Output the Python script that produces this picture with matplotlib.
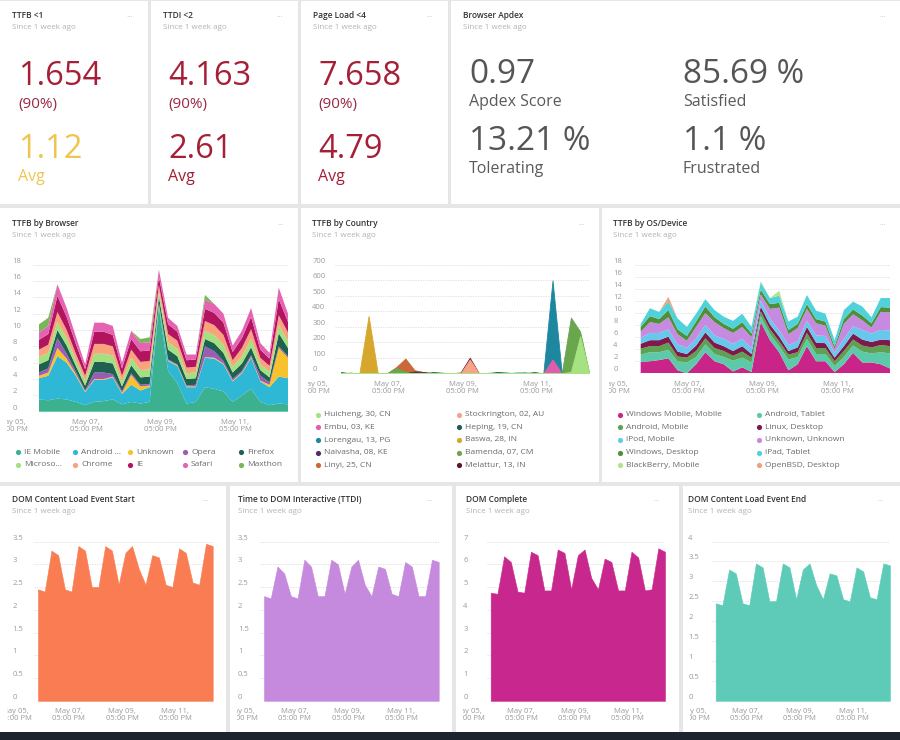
import numpy as np
import matplotlib
matplotlib.use("Agg")
import matplotlib.pyplot as plt
from matplotlib.patches import Rectangle
from matplotlib.transforms import blended_transform_factory, Bbox, TransformedBbox

plt.rcParams['font.family'] = ['Open Sans', 'DejaVu Sans']

W, H = 900, 740

# ---------------- data ----------------
kpi_titles = ["TTFB <1", "TTDI <2", "Page Load <4"]
kpi_p90 = ["1.654", "4.163", "7.658"]
kpi_avg = ["1.12", "2.61", "4.79"]
kpi_avg_colors = ["#efc552", "#a51f36", "#a51f36"]

apdex_values = ["0.97", "85.69 %", "13.21 %", "1.1 %"]
apdex_labels = ["Apdex Score", "Satisfied", "Tolerating", "Frustrated"]

# time axis: days since May 05, 05:00 PM (6-hourly samples)
tick_days = [0, 2, 4, 6]
tick_dates = ["May 05,", "May 07,", "May 09,", "May 11,"]
tick_time = "05:00 PM"
t_mid = np.linspace(0.73, 7.41, 28)
t_bot = np.linspace(0.85, 7.40, 27)

# TTFB by Browser (stacked)
browser_names = ["IE Mobile", "Android …", "Unknown", "Opera", "Firefox",
                 "Microso…", "Chrome", "IE", "Safari", "Maxthon"]
browser_colors = ["#3bb18f", "#2fb7d6", "#f8c22e", "#9d5bb8", "#1f6150",
                  "#a3e07f", "#f9a27c", "#b3145f", "#e463b3", "#79b55b"]
ie_mobile = [1.5, 1.4, 1.6, 1.5, 1.2, 0.8, 1.2, 1.3, 1.5, 0.9, 1.2, 1.0, 1.2, 12.8,
             5.0, 3.5, 1.0, 1.2, 3.0, 2.8, 2.5, 1.2, 2.0, 2.8, 1.2, 0.8, 1.0, 0.9]
android = [2.6, 3.0, 5.2, 4.5, 3.2, 1.6, 2.7, 2.6, 2.7, 1.3, 2.1, 1.6, 1.8, 0.2,
           1.2, 2.1, 2.0, 1.8, 3.6, 3.7, 3.3, 2.5, 2.7, 3.8, 2.5, 2.2, 3.3, 3.2]
unknown_b = [0.3, 0.4, 1.0, 0.5, 0.2, 0.1, 0.1, 0.1, 0.1, 0.1, 1.2, 0.5, 0.2, 0.2,
             0.1, 0.1, 0.1, 0.1, 0.1, 0.1, 0.1, 0.1, 0.1, 0.1, 0.1, 0.3, 3.5, 2.5]
opera = [0.4, 0.5, 1.2, 0.6, 0.3, 0.1, 0.8, 0.8, 0.3, 0.2, 0.2, 0.2, 0.2, 0.1,
         0.1, 0.1, 0.1, 0.2, 1.3, 0.8, 0.3, 0.2, 0.2, 0.2, 0.6, 0.3, 0.2, 0.2]
firefox = [1.0, 1.0, 1.0, 1.0, 0.7, 0.6, 1.3, 1.3, 1.3, 0.6, 1.0, 0.9, 0.9, 0.8,
           1.2, 1.0, 0.8, 0.8, 0.9, 1.0, 1.0, 0.8, 0.9, 1.0, 0.7, 0.6, 1.6, 1.0]
microsoft = [0.9, 0.9, 1.0, 0.9, 0.7, 0.6, 1.0, 1.0, 1.0, 0.6, 0.9, 0.9, 0.9, 0.6,
             0.9, 0.9, 0.7, 0.7, 1.0, 1.0, 1.0, 0.7, 0.9, 1.0, 0.7, 0.7, 1.0, 0.9]
chrome = [0.9, 1.0, 1.2, 1.0, 0.8, 0.6, 1.2, 1.2, 1.1, 0.7, 1.0, 1.0, 1.0, 0.8,
          1.0, 1.0, 0.7, 0.7, 1.2, 1.2, 1.2, 0.8, 1.0, 1.2, 0.8, 0.7, 1.2, 1.0]
ie = [1.2, 1.3, 2.0, 1.6, 1.2, 0.8, 1.5, 1.5, 1.4, 0.9, 1.3, 1.3, 1.3, 1.0,
      1.2, 1.1, 0.9, 0.9, 1.5, 1.5, 1.5, 1.0, 1.2, 1.5, 1.0, 0.9, 2.0, 1.3]
safari = [0.9, 1.0, 1.4, 1.1, 0.9, 0.6, 1.1, 1.1, 1.1, 0.7, 1.0, 1.0, 1.0, 0.9,
          0.8, 0.7, 0.7, 0.6, 1.1, 1.1, 1.1, 0.8, 0.9, 1.1, 0.8, 0.7, 1.4, 1.0]
maxthon = [1.0, 1.0, 0, 0, 0, 0, 0, 0, 0, 0, 0, 0.5, 0.6, 0,
           0, 0, 0, 0, 0.6, 0, 0, 0, 0, 0, 0, 0, 0, 0]
browser_series = [ie_mobile, android, unknown_b, opera, firefox,
                  microsoft, chrome, ie, safari, maxthon]

# TTFB by Country (overlapping areas)
country_names = ["Huicheng, 30, CN", "Stockrington, 02, AU", "Embu, 03, KE",
                 "Heping, 19, CN", "Lorengau, 13, PG", "Baswa, 28, IN",
                 "Naivasha, 08, KE", "Bamenda, 07, CM", "Linyi, 25, CN",
                 "Melattur, 13, IN"]
country_colors = ["#a6e281", "#f6a386", "#e05cad", "#1f5e50", "#1e87a0",
                  "#d6a72c", "#4e2f6b", "#69a64d", "#c9683b", "#5c1436"]
huicheng = [0, 0, 0, 0, 0, 0, 0, 0, 0, 0, 0, 0, 0, 0,
            0, 0, 0, 0, 0, 0, 0, 0, 0, 0, 0, 10, 240, 0]
stockrington = [0, 0, 0, 0, 0, 0, 0, 0, 0, 0, 0, 0, 0, 0,
                90, 0, 0, 0, 0, 0, 0, 0, 0, 0, 0, 0, 0, 0]
embu = [0, 0, 0, 0, 0, 0, 0, 0, 0, 0, 0, 0, 0, 0,
        0, 0, 0, 0, 0, 0, 0, 0, 0, 90, 0, 0, 0, 0]
heping = [8, 0, 0, 0, 0, 0, 0, 0, 0, 0, 8, 4, 0, 0,
          0, 0, 0, 8, 5, 0, 0, 8, 0, 0, 0, 0, 0, 0]
lorengau = [0, 0, 0, 0, 0, 0, 0, 0, 0, 0, 0, 0, 0, 0,
            0, 0, 3, 6, 0, 5, 6, 0, 0, 600, 0, 0, 0, 0]
baswa = [0, 0, 0, 370, 0, 0, 0, 0, 0, 0, 0, 0, 0, 0,
         0, 0, 0, 0, 0, 0, 0, 0, 0, 0, 0, 0, 0, 0]
naivasha = [0, 4, 0, 0, 0, 0, 0, 0, 12, 8, 0, 0, 0, 0,
            0, 0, 0, 0, 0, 0, 0, 0, 0, 0, 0, 0, 0, 0]
bamenda = [0, 0, 0, 0, 0, 0, 35, 10, 0, 0, 0, 0, 0, 0,
           0, 0, 0, 0, 0, 0, 0, 0, 0, 0, 0, 360, 270, 0]
linyi = [0, 0, 0, 0, 0, 0, 40, 95, 20, 8, 0, 0, 0, 0,
         0, 0, 0, 0, 0, 0, 0, 0, 0, 0, 0, 0, 0, 0]
melattur = [0, 0, 0, 0, 0, 0, 0, 0, 0, 0, 0, 0, 0, 5,
            100, 0, 0, 0, 0, 0, 0, 0, 0, 0, 0, 0, 0, 0]
country_series = [huicheng, stockrington, embu, heping, lorengau,
                  baswa, naivasha, bamenda, linyi, melattur]

# TTFB by OS/Device (stacked)
os_names = ["Windows Mobile, Mobile", "Android, Tablet", "Android, Mobile",
            "Linux, Desktop", "iPod, Mobile", "Unknown, Unknown",
            "Windows, Desktop", "iPad, Tablet", "BlackBerry, Mobile",
            "OpenBSD, Desktop"]
os_colors = ["#c92487", "#5ccaa9", "#5fa152", "#7d1a4b", "#66c8ec",
             "#c68be0", "#4f8f3a", "#4fd2da", "#b2e38e", "#f0a07e"]
win_mobile = [1.9, 2.0, 2.2, 2.5, 0.5, 0.0, 1.5, 3.5, 2.0, 1.5, 0.3, 1.0, 0.2, 8.5,
              5.5, 3.5, 0.5, 1.5, 4.5, 2.0, 2.0, 0.2, 1.5, 3.4, 1.8, 1.8, 1.5, 0.8]
android_tablet = [1.2, 1.5, 1.3, 1.4, 1.5, 1.8, 1.2, 1.3, 1.2, 1.2, 1.8, 1.6, 1.6, 1.0,
                  1.0, 1.0, 1.8, 1.2, 1.2, 1.2, 1.2, 1.0, 1.2, 1.2, 1.8, 1.5, 2.0, 2.5]
android_mobile = [1.0, 1.0, 1.0, 1.2, 0.8, 0.8, 1.0, 1.0, 1.0, 1.0, 0.8, 1.0, 0.8, 0.8,
                  0.8, 0.8, 0.8, 0.8, 1.0, 1.0, 1.0, 0.8, 1.0, 1.0, 1.0, 1.0, 1.2, 1.2]
linux = [0.8, 1.0, 1.0, 1.0, 0.8, 0.6, 0.9, 1.0, 0.9, 0.8, 0.8, 0.9, 0.6, 0.8,
         0.8, 0.8, 0.6, 0.8, 1.0, 0.9, 0.8, 0.6, 0.8, 1.0, 1.0, 0.9, 0.9, 1.0]
ipod = [1.0, 1.2, 1.2, 1.2, 1.2, 1.0, 1.2, 1.2, 1.2, 1.2, 1.2, 1.2, 1.0, 1.0,
        1.0, 1.0, 1.0, 1.0, 1.0, 1.2, 1.2, 0.8, 1.2, 1.2, 1.6, 1.4, 1.6, 1.6]
unknown_os = [1.0, 1.8, 1.5, 2.0, 1.7, 1.2, 1.9, 2.0, 2.2, 1.8, 1.8, 2.0, 1.8, 1.0,
              1.6, 3.8, 1.8, 2.2, 2.0, 2.0, 1.7, 0.6, 2.5, 2.0, 1.6, 1.0, 3.0, 3.0]
win_desktop = [0.8, 1.0, 0.8, 1.2, 0.8, 0.8, 0.9, 1.1, 0.8, 0.7, 0.7, 0.8, 0.6, 0.8,
               0.8, 0.8, 0.7, 0.7, 0.8, 0.7, 0.7, 0.5, 0.8, 0.8, 0.8, 0.7, 0.8, 0.8]
ipad = [0.5, 1.3, 1.2, 1.4, 1.8, 1.5, 1.3, 1.2, 1.2, 1.2, 1.3, 1.4, 1.1, 1.2,
        1.0, 1.2, 1.4, 1.2, 1.5, 1.4, 1.3, 1.0, 1.5, 1.3, 1.5, 1.0, 1.5, 1.6]
blackberry = [0, 0, 0, 0, 0, 0, 0, 0, 0, 0, 0, 0, 0, 0.2,
              0, 0.8, 0, 0, 0, 0, 0, 0, 0, 0, 0, 0, 0, 0]
openbsd = [0, 0, 0, 0.8, 0, 0, 0, 0, 0, 0, 0, 0, 0, 0,
           0, 0, 0, 0, 0, 0, 0, 0, 0, 0, 0, 0, 0, 0]
os_series = [win_mobile, android_tablet, android_mobile, linux, ipod,
             unknown_os, win_desktop, ipad, blackberry, openbsd]

# bottom row single-series area charts
dom_titles = ["DOM Content Load Event Start", "Time to DOM Interactive (TTDI)",
              "DOM Complete", "DOM Content Load Event End"]
dom_colors = ["#f97c52", "#c589de", "#c8288d", "#5ecbb9"]
dom_start = [2.45, 2.40, 3.30, 3.20, 2.45, 2.40, 3.40, 3.30, 2.50, 2.50, 3.40, 3.30, 2.55, 3.25,
             3.40, 2.90, 2.55, 3.20, 3.15, 2.55, 2.50, 3.35, 3.25, 2.60, 2.55, 3.45, 3.40]
ttdi = [2.30, 2.25, 2.95, 2.80, 2.30, 2.25, 3.10, 2.95, 2.30, 2.30, 3.10, 3.00, 2.35, 2.95,
        3.10, 2.55, 2.30, 2.95, 2.90, 2.35, 2.30, 3.05, 2.95, 2.30, 2.30, 3.10, 3.05]
dom_complete = [4.75, 4.70, 6.35, 6.10, 4.80, 4.75, 6.55, 6.40, 4.85, 4.85, 6.65, 6.50, 4.90, 6.40,
                6.65, 5.40, 4.90, 6.25, 6.10, 4.85, 4.85, 6.55, 6.30, 4.85, 4.90, 6.70, 6.55]
dom_end = [2.45, 2.40, 3.30, 3.20, 2.45, 2.40, 3.45, 3.35, 2.50, 2.50, 3.45, 3.35, 2.55, 3.30,
           3.45, 2.90, 2.55, 3.20, 3.15, 2.55, 2.50, 3.35, 3.25, 2.60, 2.55, 3.45, 3.40]
dom_series = [dom_start, ttdi, dom_complete, dom_end]
dom_yticks = [[0, 0.5, 1, 1.5, 2, 2.5, 3, 3.5], [0, 0.5, 1, 1.5, 2, 2.5, 3, 3.5],
              [0, 1, 2, 3, 4, 5, 6, 7], [0, 0.5, 1, 1.5, 2, 2.5, 3, 3.5, 4]]

ttfb_yticks = [0, 2, 4, 6, 8, 10, 12, 14, 16, 18]
country_yticks = [0, 100, 200, 300, 400, 500, 600, 700]

# ---------------- figure ----------------
fig = plt.figure(figsize=(W / 100, H / 100), dpi=100, facecolor="#e6e6e6")
canvas = fig.add_axes([0, 0, 1, 1])
canvas.set_xlim(0, W)
canvas.set_ylim(H, 0)
canvas.axis("off")

TITLE_C = "#333333"
SUB_C = "#b3b3b3"
TICK_C = "#9a9a9a"
LEG_C = "#6a6a6a"
RED = "#a51f36"


def fmt(v):
    return ("%g" % v)


def panel(x0, y0, x1, y1):
    canvas.add_patch(Rectangle((x0, y0), x1 - x0, y1 - y0, facecolor="white",
                               edgecolor="none", zorder=0))


def header(x, y, title, dots_x):
    canvas.text(x, y, title, fontsize=6, fontweight="semibold", color=TITLE_C, va="baseline")
    canvas.text(x, y + 10.5, "Since 1 week ago", fontsize=5.8, color=SUB_C, va="baseline")
    canvas.text(dots_x, y + 1, "···", fontsize=6, color="#c4c4c4", ha="center", va="baseline")


def chart_axes(box, fill_x0, fill_x1, y_top, y_bot, t, ymax, yticks, label_x):
    t0, t1 = t[0], t[-1]
    day0 = fill_x0 - t0 * (fill_x1 - fill_x0) / (t1 - t0)
    ax = fig.add_axes([day0 / W, 1 - y_bot / H, (fill_x1 - day0) / W, (y_bot - y_top) / H])
    ax.set_xlim(0, t1)
    ax.set_ylim(0, ymax)
    ax.axis("off")
    ax.hlines(yticks, t0 - 0.15, t1, colors="#dadada", linestyles=(0, (1.5, 1.5)),
              linewidth=0.6, zorder=0)
    ytr = blended_transform_factory(canvas.transData, ax.transData)
    for v in yticks:
        canvas.text(label_x, v, fmt(v), transform=ytr, fontsize=5.5, color=TICK_C,
                    ha="left", va="bottom")
    xtr = blended_transform_factory(ax.transData, canvas.transData)
    clip = TransformedBbox(Bbox.from_extents((box[0] + 7) / W, 0, box[2] / W, 1),
                           fig.transFigure)
    for d, s in zip(tick_days, tick_dates):
        for txt, dy in ((s, 12.5), (tick_time, 19.5)):
            tt = canvas.text(d, y_bot + dy, txt, transform=xtr, fontsize=5.5,
                             color=TICK_C, ha="center", va="baseline", clip_on=True)
            tt.set_clip_box(clip)
    return ax


# panels
row1 = [(0, 1, 148, 204), (151, 1, 298, 204), (301, 1, 448, 204), (451, 1, 900, 204)]
row2 = [(0, 208, 298, 482), (301, 208, 599, 482), (602, 208, 900, 482)]
row3 = [(0, 486, 226, 732), (230, 486, 452, 732), (456, 486, 679, 732), (683, 486, 900, 732)]
for b in row1 + row2 + row3:
    panel(*b)
canvas.add_patch(Rectangle((0, 732), W, H - 732, facecolor="#1d2430", edgecolor="none"))

# ---- row 1: KPI tiles ----
kpi_x = [18, 168, 318]
for i in range(3):
    b = row1[i]
    header(b[0] + 12, 18.5, kpi_titles[i], b[2] - 18)
    x = kpi_x[i]
    canvas.text(x, 85, kpi_p90[i], fontsize=23.5, color=RED, va="baseline")
    canvas.text(x, 108, "(90%)", fontsize=11, color="#9a2944", va="baseline")
    canvas.text(x, 158.5, kpi_avg[i], fontsize=23.5, color=kpi_avg_colors[i], va="baseline")
    canvas.text(x, 181, "Avg", fontsize=11.5, color=kpi_avg_colors[i], va="baseline")

header(463, 18.5, "Browser Apdex", 883)
apdex_x = [469, 683, 469, 683]
apdex_y = [83, 83, 150, 150]
for v, lab, x, y in zip(apdex_values, apdex_labels, apdex_x, apdex_y):
    canvas.text(x, y, v, fontsize=24, color="#555555", va="baseline")
    canvas.text(x, y + 23.3, lab, fontsize=11.5, color="#5a5a5a", va="baseline")

# ---- row 2: TTFB charts ----
header(12.5, 226.5, "TTFB by Browser", 281)
ax1 = chart_axes(row2[0], 39, 288, 264.7, 411.7, t_mid, 18, ttfb_yticks, 12.5)
ax1.stackplot(t_mid, *browser_series, colors=browser_colors, linewidth=0, zorder=2)
leg_x1 = [18, 75, 130, 185, 241]
for i, (name, c) in enumerate(zip(browser_names, browser_colors)):
    x = leg_x1[i % 5]
    y = 452.3 + 12.7 * (i // 5)
    canvas.scatter([x], [y], s=14, color=c, linewidths=0)
    canvas.text(x + 6, y, name, fontsize=6, color=LEG_C, va="center")

header(312.5, 226.5, "TTFB by Country", 582)
ax2 = chart_axes(row2[1], 341, 589.3, 264.9, 373.3, t_mid, 700, country_yticks, 312.3)
for i in reversed(range(len(country_series))):
    ax2.fill_between(t_mid, country_series[i], color=country_colors[i], linewidth=0.6,
                     edgecolor=country_colors[i], zorder=2)

header(613.3, 226.5, "TTFB by OS/Device", 883)
ax3 = chart_axes(row2[2], 640.7, 890, 264.9, 373.3, t_mid, 18, ttfb_yticks, 613.3)
ax3.stackplot(t_mid, *os_series, colors=os_colors, linewidth=0, zorder=2)

for names, colors, xs in ((country_names, country_colors, (318.3, 459.3)),
                          (os_names, os_colors, (620, 759.3))):
    for i, (name, c) in enumerate(zip(names, colors)):
        x = xs[i % 2]
        y = 414.8 + 12.6 * (i // 2)
        canvas.scatter([x], [y], s=14, color=c, linewidths=0)
        canvas.text(x + 6, y, name, fontsize=6, color=LEG_C, va="center")

# ---- row 3: DOM timing charts ----
dom_fill = [(38, 212.7), (264, 438.7), (490.7, 665), (715.7, 890)]
dom_label_x = [12.3, 238, 463.3, 688.3]
dom_title_x = [12.3, 238, 466, 688.3]
dom_dots_x = [206, 430, 657, 881]
for i in range(4):
    header(dom_title_x[i], 502.5, dom_titles[i], dom_dots_x[i])
    yt = dom_yticks[i]
    ax = chart_axes(row3[i], dom_fill[i][0], dom_fill[i][1], 541.5, 700.8, t_bot,
                    yt[-1], yt, dom_label_x[i])
    ax.fill_between(t_bot, dom_series[i], color=dom_colors[i], linewidth=0.4,
                    edgecolor=dom_colors[i], zorder=2)

fig.savefig("out.png", dpi=100, facecolor=fig.get_facecolor())
